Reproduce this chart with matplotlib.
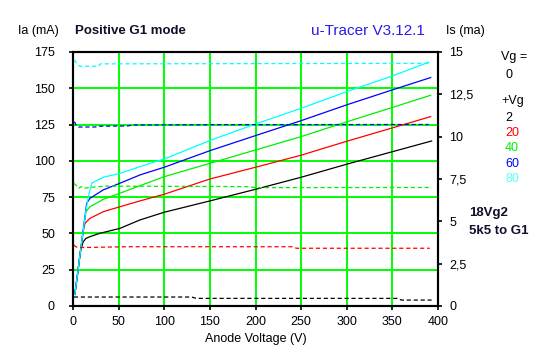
import matplotlib
matplotlib.use("Agg")
import matplotlib.pyplot as plt

plt.rcParams['font.family'] = ['Liberation Sans', 'DejaVu Sans']
plt.rcParams['lines.scale_dashes'] = False

# ---- data: anode current Ia (mA) vs anode voltage (V)
va_black = [2, 5, 8, 11, 14, 18.6, 29.6, 51.5, 73.4, 100, 150, 200, 250, 300, 350, 393]
ia_black = [8, 22, 37, 44, 46.5, 47.8, 50.1, 53.5, 59.3, 64.6, 72.4, 80.4, 88.7, 97.7, 106.3, 113.7]

va_red = [2, 5, 8, 11, 13.2, 18.6, 33.2, 51.5, 73.4, 100, 150, 200, 250, 300, 350, 392]
ia_red = [8, 22, 37, 51, 57, 60.4, 65, 68.4, 72.4, 77, 87.5, 95.6, 103.9, 113.5, 122.7, 130.5]

va_green = [2, 5, 8, 11, 14.2, 18.6, 33.2, 51.5, 73.4, 100, 150, 200, 250, 300, 350, 392]
ia_green = [8, 22, 37, 51, 65, 68.4, 73.5, 77.7, 82.9, 89.1, 98.3, 107.5, 116.7, 126.9, 136.8, 145.2]

va_blue = [2, 5, 8, 11, 15, 18.6, 33.2, 51.5, 73.4, 100, 150, 200, 250, 300, 350, 392]
ia_blue = [8, 22, 37, 51, 70.8, 74.2, 80, 84.6, 90.3, 95.6, 107, 117.4, 127.7, 138.6, 148.9, 157.4]

va_cyan = [2, 5, 8, 11, 14, 16.8, 20.5, 33.2, 51.5, 73.4, 100, 150, 200, 250, 300, 350, 390]
ia_cyan = [8, 22, 37, 51, 65, 75.3, 84.6, 88.7, 91.4, 96, 101.3, 114, 125.4, 136.2, 147.7, 158.5, 168]

# ---- data: screen current Is (mA) vs anode voltage (V)
vs_black = [1, 130, 135, 355, 360, 393]
is_black = [0.53, 0.53, 0.45, 0.45, 0.35, 0.35]

vs_red = [1, 3, 6, 60, 240, 245, 391]
is_red = [3.6, 3.5, 3.45, 3.5, 3.5, 3.41, 3.41]

vs_green = [1, 3, 6, 9, 12, 18, 35, 190, 200, 390]
is_green = [7.25, 7.15, 6.95, 7.05, 6.95, 7.0, 7.08, 7.05, 6.99, 7.0]

vs_blue = [1, 2, 3, 6, 24, 30, 60, 65, 160, 390]
is_blue = [10.85, 10.85, 10.72, 10.57, 10.57, 10.62, 10.63, 10.69, 10.71, 10.72]

vs_cyan = [1, 2, 4, 5, 8, 28, 30, 390]
is_cyan = [14.5, 14.5, 14.3, 14.25, 14.16, 14.16, 14.3, 14.33]

x_ticks = [0, 50, 100, 150, 200, 250, 300, 350, 400]
ia_ticks = [0, 25, 50, 75, 100, 125, 150, 175]
is_ticks = [0, 2.5, 5, 7.5, 10, 12.5, 15]
is_ticklabels = ["0", "2,5", "5", "7,5", "10", "12,5", "15"]

legend_vals = ["2", "20", "40", "60", "80"]
colors = ["#000000", "#ff0000", "#00ee00", "#0000ff", "#00ffff"]

fig = plt.figure(figsize=(5.47, 3.57), dpi=100)
ax = fig.add_axes([73/547, 1-306/357, (438-73)/547, (306-52)/357])
ax2 = ax.twinx()

ax.set_xlim(0, 400)
ax.set_ylim(0, 175)
ax2.set_ylim(0, 15)

# grid
for v in x_ticks[1:-1]:
    ax.axvline(v, color="#00ff00", lw=1.4, zorder=1)
for v in ia_ticks[1:-1]:
    ax.axhline(v, color="#00ff00", lw=1.4, zorder=1)

ia_series = [(va_black, ia_black), (va_red, ia_red), (va_green, ia_green),
             (va_blue, ia_blue), (va_cyan, ia_cyan)]
is_series = [(vs_black, is_black), (vs_red, is_red), (vs_green, is_green),
             (vs_blue, is_blue), (vs_cyan, is_cyan)]

for (v, i), c in zip(ia_series, colors):
    ax.plot(v, i, color=c, lw=0.9, zorder=3)
for (v, i), c in zip(is_series, colors):
    ln, = ax2.plot(v, i, color=c, lw=0.9, zorder=3)
    ln.set_dashes((3, 2))

ax.set_xticks(x_ticks)
ax.set_yticks(ia_ticks)
ax2.set_yticks(is_ticks)
ax2.set_yticklabels(is_ticklabels)

for a in (ax, ax2):
    for s in a.spines.values():
        s.set_linewidth(1.5)
        s.set_color("black")

ax.tick_params(axis="x", direction="out", length=3, width=1.2, pad=4, labelsize=9)
ax.tick_params(axis="y", direction="out", length=3, width=1.2, pad=10, labelsize=9)
ax2.tick_params(axis="y", direction="out", length=3, width=1.2, pad=5, labelsize=9)

ax.set_xlabel("Anode Voltage (V)", fontsize=9, labelpad=4)

# texts
fig.text(18/547, 1-31/357, "Ia (mA)", fontsize=9, va="center", ha="left")
fig.text(75/547, 1-31/357, "Positive G1 mode", fontsize=9.5, fontweight="bold",
         va="center", ha="left", color="#10102a")
fig.text(368/547, 1-31/357, "u-Tracer V3.12.1", fontsize=11, va="center", ha="center",
         color="#2a1aee")
fig.text(446/547, 1-31/357, "Is (ma)", fontsize=9, va="center", ha="left")

fig.text(501/547, 1-57/357, "Vg =", fontsize=9, va="center", ha="left")
fig.text(505/547, 1-75/357, "0", fontsize=9, va="center", ha="left")
fig.text(501/547, 1-101/357, "+Vg", fontsize=9, va="center", ha="left")
ys = [118, 133, 148, 164, 179]
lcolors = ["#000000", "#ff0000", "#00ee00", "#0000ff", "#55ffff"]
for t, y, c in zip(legend_vals, ys, lcolors):
    fig.text(505/547, 1-y/357, t, fontsize=9, va="center", ha="left", color=c)

fig.text(469/547, 1-213/357, "18Vg2", fontsize=9.5, fontweight="bold", va="center",
         ha="left", color="#10102a")
fig.text(469/547, 1-231/357, "5k5 to G1", fontsize=9.5, fontweight="bold", va="center",
         ha="left", color="#10102a")

fig.savefig("out.png", dpi=100)
